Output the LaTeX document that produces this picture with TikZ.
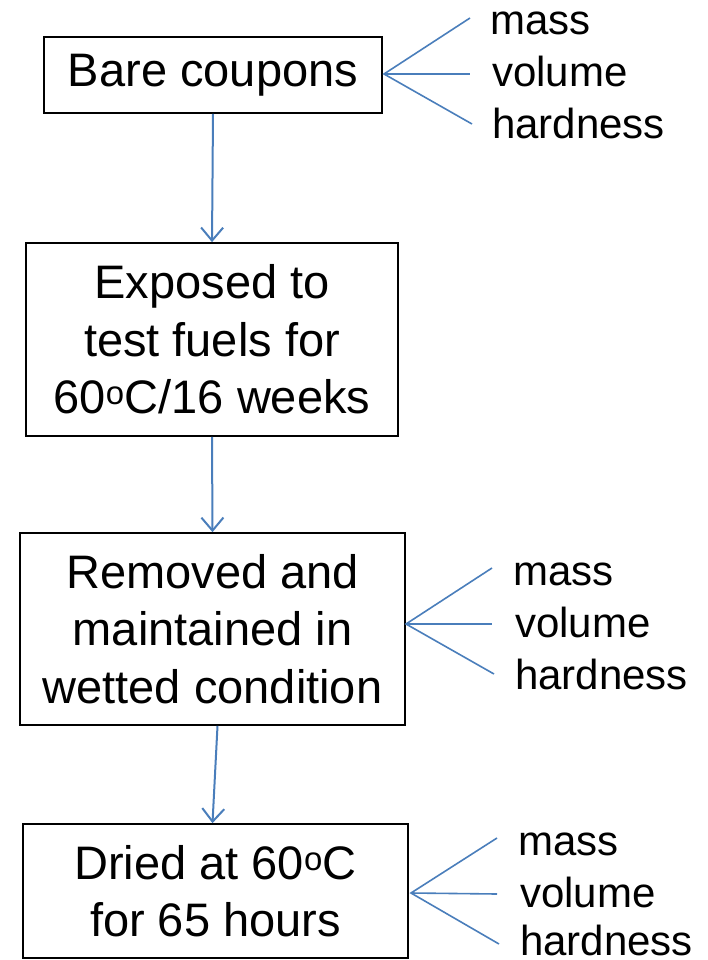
\documentclass[tikz,border=0pt]{standalone}
\usepackage{fontspec}
\setmainfont{Liberation Sans}
\usetikzlibrary{arrows.meta,calc}
\definecolor{lineblue}{HTML}{4A7EBB}
\begin{document}
\begin{tikzpicture}[x=1pt,y=-1pt,
  stepbox/.style={draw=black,line width=1.7pt,inner sep=0pt,align=center,
    font=\fontsize{47}{57.5}\selectfont},
  flow/.style={draw=lineblue,line width=2pt,-{Straight Barb[length=13pt,width=22pt,line width=2pt]}},
  fan/.style={draw=lineblue,line width=1.6pt},
  lbl/.style={anchor=base west,inner sep=0pt,font=\fontsize{42}{50}\selectfont}]
\useasboundingbox (0,0) rectangle (708,960);
% boxes
\node[stepbox,minimum width=338pt,minimum height=76pt] (b1) at (213,75) {Bare coupons};
\node[stepbox,minimum width=372pt,minimum height=193pt] (b2) at (212,339.5) {Exposed to\\test fuels for\\60\textsuperscript{o}C/16 weeks};
\node[stepbox,minimum width=385pt,minimum height=192pt] (b3) at (212.5,629) {Removed and\\maintained in\\wetted condition};
\node[stepbox,minimum width=385pt,minimum height=134pt] (b4) at (215.5,891) {Dried at 60\textsuperscript{o}C\\for 65 hours};
% arrows
\draw[flow] (b1.south) -- (b2.north);
\draw[flow] (b2.south) -- (b3.north);
\draw[flow] ($(b3.south)+(5,0)$) -- ($(b4.north)+(-3,0)$);
% fan 1
\coordinate (f1) at (384,74);
\coordinate (f1a) at (470,18);
\coordinate (f1b) at (470,74);
\coordinate (f1c) at (472,124);
\draw[fan] (f1a) -- (f1) -- (f1c);
\draw[fan] (f1) -- (f1b);
\node[lbl] (m1) at (490,35) {mass};
\node[lbl] (v1) at (492,87) {volume};
\node[lbl] (h1) at (492,139) {hardness};
% fan 2
\coordinate (f2) at (406,624);
\coordinate (f2a) at (492,568);
\coordinate (f2b) at (492,624);
\coordinate (f2c) at (494,674);
\draw[fan] (f2a) -- (f2) -- (f2c);
\draw[fan] (f2) -- (f2b);
\node[lbl] (m2) at (513,585) {mass};
\node[lbl] (v2) at (515,637) {volume};
\node[lbl] (h2) at (515,689) {hardness};
% fan 3
\coordinate (f3) at (411,893);
\coordinate (f3a) at (497,838);
\coordinate (f3b) at (497,894);
\coordinate (f3c) at (499,944);
\draw[fan] (f3a) -- (f3) -- (f3c);
\draw[fan] (f3) -- (f3b);
\node[lbl] (m3) at (518,855) {mass};
\node[lbl] (v3) at (520,907) {volume};
\node[lbl] (h3) at (520,955) {hardness};
\end{tikzpicture}
\end{document}
